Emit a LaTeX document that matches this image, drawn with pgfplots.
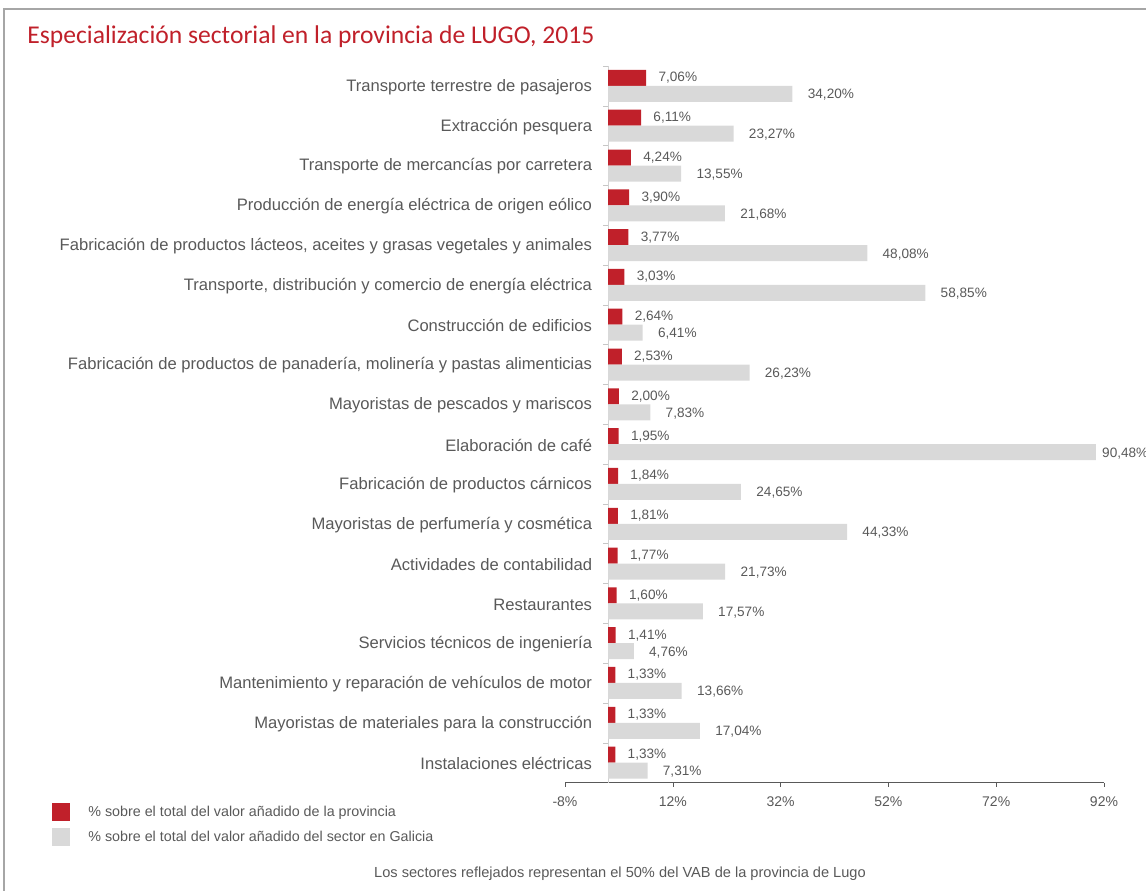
\documentclass[border=0pt]{standalone}
\usepackage{pgfplots}
\pgfplotsset{compat=1.18}
\usepackage{fontspec}
\setmainfont{Liberation Sans}
\newfontfamily\titlefont{Carlito}
\definecolor{rojo}{HTML}{C0202A}
\definecolor{grisbar}{HTML}{D9D9D9}
\definecolor{texto}{HTML}{595959}
\definecolor{marco}{HTML}{A6A6A6}

\begin{document}
\begin{tikzpicture}
\path[use as bounding box] (0,0) rectangle (573pt,445.5pt);
\draw[marco, line width=1pt] (1.5pt,441pt) -- (573pt,441pt);
\draw[marco, line width=1pt] (2pt,441pt) -- (2pt,0pt);
\node[anchor=west, text=rojo, font=\titlefont\fontsize{12.8}{14}\selectfont, inner sep=0pt]
  at (13.5pt,427pt) {Especialización sectorial en la provincia de LUGO, 2015};

\begin{axis}[
  at={(282.5pt,54.25pt)}, anchor=south west,
  scale only axis, width=269.5pt, height=358.25pt,
  xbar, bar width=8pt,
  xmin=-8, xmax=92, ymin=0.5, ymax=18.5,
  axis x line=bottom, axis y line=middle,
  every inner y axis line/.append style={-},
  every inner x axis line/.append style={-},
  x axis line style={-, draw=texto, line width=0.6pt},
  y axis line style={-, draw=gray!35},
  clip=false,
  /pgf/number format/assume math mode=true,
  tick align=outside,
  major tick length=2pt, minor tick length=2.5pt,
  xtick={-8,12,32,52,72,92},
  xticklabels={-8\%,12\%,32\%,52\%,72\%,92\%},
  xtick style={draw=texto},
  xticklabel style={font=\fontsize{7}{8}\selectfont, text=texto, yshift=-1.5pt},
  ytick={1,...,18},
  minor ytick={0.5,1.5,...,18.5},
  every major y tick/.append style={draw=none},
  every minor y tick/.append style={draw=gray!45},
  yticklabel style={font=\fontsize{8.3}{10}\selectfont, text=texto, xshift=-2.5pt, yshift=-0.5pt},
  yticklabels={
    Instalaciones eléctricas,
    Mayoristas de materiales para la construcción,
    Mantenimiento y reparación de vehículos de motor,
    Servicios técnicos de ingeniería,
    Restaurantes,
    Actividades de contabilidad,
    Mayoristas de perfumería y cosmética,
    Fabricación de productos cárnicos,
    Elaboración de café,
    Mayoristas de pescados y mariscos,
    {Fabricación de productos de panadería, molinería y pastas alimenticias},
    Construcción de edificios,
    {Transporte, distribución y comercio de energía eléctrica},
    {Fabricación de productos lácteos, aceites y grasas vegetales y animales},
    Producción de energía eléctrica de origen eólico,
    Transporte de mercancías por carretera,
    Extracción pesquera,
    Transporte terrestre de pasajeros},
  point meta=x,
  nodes near coords={\pgfmathprintnumber[fixed,fixed zerofill,precision=2,use comma,assume math mode=true]{\pgfplotspointmeta}\%},
  every node near coord/.append style={font=\fontsize{6.8}{8}\selectfont, text=texto, anchor=west, inner sep=0pt},
  legend image code/.code={\fill (0pt,-4.5pt) rectangle (9pt,4.5pt);},
  legend style={at={(axis description cs:-0.9518,-0.0286)}, anchor=north west,
    draw=none, fill=none, inner sep=0pt, nodes={inner sep=0pt},
    font=\fontsize{7.15}{8}\selectfont, text=texto, row sep=3.5pt},
  legend cell align=left,
]
\addplot[fill=rojo, draw=none, bar shift=4pt,
  every node near coord/.append style={xshift=6pt}]
  coordinates {
    (1.33,1) (1.33,2) (1.33,3) (1.41,4) (1.60,5) (1.77,6)
    (1.81,7) (1.84,8) (1.95,9) (2.00,10) (2.53,11) (2.64,12)
    (3.03,13) (3.77,14) (3.90,15) (4.24,16) (6.11,17) (7.06,18)
  };
\addplot[fill=grisbar, draw=none, bar shift=-4pt,
  visualization depends on={rawx \as \rawx},
  every node near coord/.append style={xshift={(\rawx>80) ? 3 : 7.5}, yshift=-0.5pt}]
  coordinates {
    (7.31,1) (17.04,2) (13.66,3) (4.76,4) (17.57,5) (21.73,6)
    (44.33,7) (24.65,8) (90.48,9) (7.83,10) (26.23,11) (6.41,12)
    (58.85,13) (48.08,14) (21.68,15) (13.55,16) (23.27,17) (34.20,18)
  };
\legend{\hspace*{9pt}\% sobre el total del valor añadido de la provincia,
        \hspace*{9pt}\% sobre el total del valor añadido del sector en Galicia}
\end{axis}

\node[font=\fontsize{7.3}{8}\selectfont, text=texto] at (310pt,8.5pt)
  {Los sectores reflejados representan el 50\% del VAB de la provincia de Lugo};
\end{tikzpicture}
\end{document}
